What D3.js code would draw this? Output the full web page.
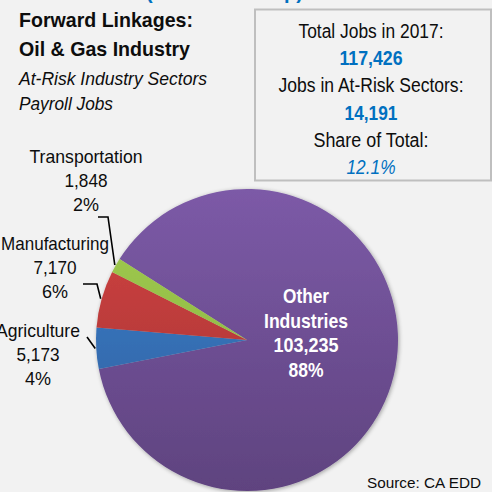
<!DOCTYPE html>
<html><head><meta charset="utf-8">
<script src="https://cdn.jsdelivr.net/npm/d3@7"></script>
<style>html,body{margin:0;padding:0;background:#F2F2F2;}svg{display:block;font-family:"Liberation Sans",Arial,sans-serif;}</style>
</head><body><svg id="c" width="492" height="492"></svg>
<script>
const categories = ["Other Industries", "Agriculture", "Manufacturing", "Transportation"];
const values = [103235, 5173, 7170, 1848];
const percentLabels = ["88%", "4%", "6%", "2%"];
const valueLabels = ["103,235", "5,173", "7,170", "1,848"];
const boxLines = ["Total Jobs in 2017:", "117,426", "Jobs in At-Risk Sectors:", "14,191", "Share of Total:", "12.1%"];

const svg = d3.select("#c");
const W = 492, H = 492;
svg.append("rect").attr("width", W).attr("height", H).attr("fill", "#F2F2F2");

const defs = svg.append("defs");
const grads = [
  ["#7C5AA7", "#5F437F"],
  ["#3F82D0", "#2C5C99"],
  ["#D44545", "#A0302E"],
  ["#A2CC52", "#86B03C"]
];
const cx = 247, cy = 340, R = 151;
grads.forEach((g, i) => {
  const lg = defs.append("linearGradient").attr("id", "g" + i)
    .attr("gradientUnits", "userSpaceOnUse")
    .attr("x1", 0).attr("y1", -R).attr("x2", 0).attr("y2", R);
  lg.append("stop").attr("offset", 0).attr("stop-color", g[0]);
  lg.append("stop").attr("offset", 1).attr("stop-color", g[1]);
});
const f = defs.append("filter").attr("id", "sh").attr("x", "-10%").attr("y", "-10%").attr("width", "120%").attr("height", "120%");
f.append("feGaussianBlur").attr("in", "SourceAlpha").attr("stdDeviation", 2).attr("result", "b");
f.append("feOffset").attr("in", "b").attr("dx", 1).attr("dy", 1).attr("result", "o");
f.append("feComponentTransfer").attr("in", "o").attr("result", "o2").append("feFuncA").attr("type", "linear").attr("slope", 0.35);
const fm = f.append("feMerge");
fm.append("feMergeNode").attr("in", "o2");
fm.append("feMergeNode").attr("in", "SourceGraphic");

// blue title fragment cut off at top
svg.append("text").attr("x", 146).attr("y", -1.5).attr("fill", "#0070C0").attr("font-weight", "bold").attr("font-size", 20).text("(");
svg.append("text").attr("x", 284).attr("y", -1.5).attr("fill", "#0070C0").attr("font-weight", "bold").attr("font-size", 20).text("p)");

// Titles
const title = [
  {t: "Forward Linkages:", y: 27, w: 174, bold: true, it: false, s: 21},
  {t: "Oil & Gas Industry", y: 56, w: 171, bold: true, it: false, s: 21},
  {t: "At-Risk Industry Sectors", y: 85, w: 188, bold: false, it: true, s: 19},
  {t: "Payroll Jobs", y: 110, w: 94, bold: false, it: true, s: 19}
];
title.forEach(d => {
  svg.append("text").attr("x", 19).attr("y", d.y).attr("font-size", d.s)
    .attr("font-weight", d.bold ? "bold" : "normal").attr("font-style", d.it ? "italic" : "normal")
    .attr("fill", "#0d0d0d").attr("textLength", d.w).attr("lengthAdjust", "spacingAndGlyphs").text(d.t);
});

// Box
svg.append("rect").attr("x", 255).attr("y", 9.5).attr("width", 236).attr("height", 171)
  .attr("fill", "#F2F2F2").attr("stroke", "#BFBFBF").attr("stroke-width", 2);
const boxY = [38, 65, 92, 120, 147, 174];
const boxW = [145, 63, 185, 53, 115, 49];
boxLines.forEach((t, i) => {
  const isVal = i % 2 === 1;
  svg.append("text").attr("x", 371).attr("y", boxY[i]).attr("text-anchor", "middle")
    .attr("font-size", 20)
    .attr("font-weight", isVal && i < 5 ? "bold" : "normal")
    .attr("font-style", i === 5 ? "italic" : "normal")
    .attr("fill", isVal ? "#0070C0" : "#0d0d0d")
    .attr("textLength", boxW[i]).attr("lengthAdjust", "spacingAndGlyphs")
    .text(t);
});

// Pie
const startOffset = -57.6 * Math.PI / 180;
const pie = d3.pie().sort(null).startAngle(startOffset).endAngle(startOffset + 2 * Math.PI);
const arcs = pie(values);
const arc = d3.arc().innerRadius(0).outerRadius(R);
const g = svg.append("g").attr("transform", `translate(${cx},${cy})`).attr("filter", "url(#sh)");
g.selectAll("path").data(arcs).join("path")
  .attr("d", arc)
  .attr("fill", (d, i) => `url(#g${i})`);

// Inner label for Other Industries
const inner = ["Other", "Industries", valueLabels[0], percentLabels[0]];
const innerY = [303, 328, 352, 377];
const innerW = [46, 84, 65, 35];
inner.forEach((t, i) => {
  svg.append("text").attr("x", 306).attr("y", innerY[i]).attr("text-anchor", "middle")
    .attr("font-size", 21).attr("font-weight", "bold").attr("fill", "#fff")
    .attr("textLength", innerW[i]).attr("lengthAdjust", "spacingAndGlyphs").text(t);
});

// Outside labels
const outside = [
  {i: 3, x: 86, y: 163, w: [113, 43, 26], line: [[98,217],[108,217]]},
  {i: 2, x: 55, y: 250, w: [108, 43, 26], line: [[83,284],[97,284]]},
  {i: 1, x: 38, y: 337, w: [84, 43, 26], line: [[87,337]]}
];
outside.forEach(o => {
  const lines = [categories[o.i], valueLabels[o.i], percentLabels[o.i]];
  lines.forEach((t, k) => {
    svg.append("text").attr("x", o.x).attr("y", o.y + k * 24).attr("text-anchor", "middle")
      .attr("font-size", 19).attr("fill", "#0d0d0d")
      .attr("textLength", o.w[k]).attr("lengthAdjust", "spacingAndGlyphs").text(t);
  });
  const a = arcs[o.i];
  const mid = (a.startAngle + a.endAngle) / 2;
  const ex = cx + (R + 1) * Math.sin(mid), ey = cy - (R + 1) * Math.cos(mid);
  const pts = o.line.concat([[ex, ey]]);
  svg.append("path").attr("d", d3.line()(pts)).attr("fill", "none").attr("stroke", "#000").attr("stroke-width", 1.6);
});

svg.append("text").attr("x", 481).attr("y", 488).attr("text-anchor", "end").attr("font-size", 15.5)
  .attr("fill", "#0d0d0d").attr("textLength", 114).attr("lengthAdjust", "spacingAndGlyphs").text("Source: CA EDD");
</script></body></html>
